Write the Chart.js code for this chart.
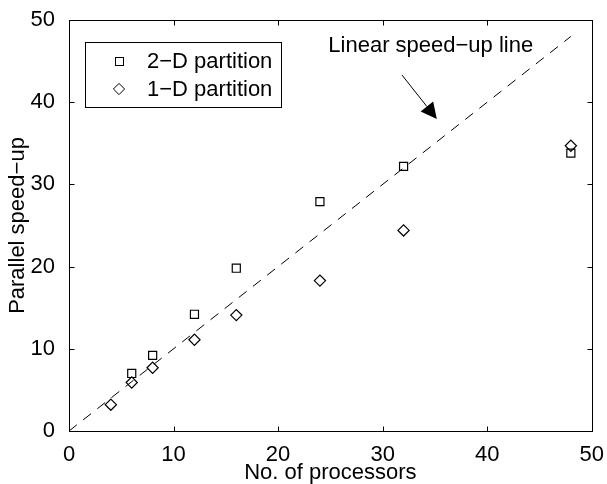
<!DOCTYPE html>
<html>
<head>
<meta charset="utf-8">
<script src="https://cdn.jsdelivr.net/npm/chart.js@4/dist/chart.umd.min.js"></script>
<style>
  html, body { margin: 0; padding: 0; background: #fff; }
  #wrap { width: 607px; height: 484px; }
</style>
</head>
<body>
<div id="wrap"><canvas id="c" width="607" height="484"></canvas></div>
<script>
// ---- Data ----
const processors2D = [6, 8, 12, 16, 24, 32, 48];
const speedup2D    = [7.0, 9.2, 14.2, 19.8, 27.9, 32.2, 33.8];
const processors1D = [4, 6, 8, 12, 16, 24, 32, 48];
const speedup1D    = [3.2, 5.9, 7.7, 11.1, 14.1, 18.3, 24.4, 34.7];
const linearX = [0, 48];
const linearY = [0, 48];
const xTickValues = [0, 10, 20, 30, 40, 50];
const yTickValues = [0, 10, 20, 30, 40, 50];
const seriesLabels = ['2\u2212D partition', '1\u2212D partition'];
const annotationText = 'Linear speed\u2212up line';
const xTitle = 'No. of processors';
const yTitle = 'Parallel speed\u2212up';

// annotation anchor points in data units
const annotationTextAt = [34.6, 46.9];
const arrowFrom = [31.85, 43.3];
const arrowTo   = [35.18, 37.95];

const FONT = "'Liberation Sans', Arial, Helvetica, sans-serif";
const FS = 22;

const toPts = (xs, ys) => xs.map((x, i) => ({ x: x, y: ys[i] }));

const framePlugin = {
  id: 'frame',
  afterDraw(chart) {
    const ctx = chart.ctx;
    const a = chart.chartArea;
    const xs = chart.scales.x, ys = chart.scales.y;
    ctx.save();
    ctx.strokeStyle = '#000';
    ctx.lineWidth = 1;
    const L = Math.round(a.left) + 0.5, R = Math.round(a.right) + 0.5;
    const T = Math.round(a.top) + 0.5, B = Math.round(a.bottom) + 0.5;
    ctx.strokeRect(L, T, R - L, B - T);
    const tl = 5;
    ctx.beginPath();
    xTickValues.forEach(v => {
      const px = Math.round(xs.getPixelForValue(v)) + 0.5;
      ctx.moveTo(px, B); ctx.lineTo(px, B - tl);
      ctx.moveTo(px, T); ctx.lineTo(px, T + tl);
    });
    yTickValues.forEach(v => {
      const py = Math.round(ys.getPixelForValue(v)) + 0.5;
      ctx.moveTo(L, py); ctx.lineTo(L + tl, py);
      ctx.moveTo(R, py); ctx.lineTo(R - tl, py);
    });
    ctx.stroke();

    // legend
    const lx = 85.5, ly = 42.5, lw = 196, lh = 65;
    ctx.fillStyle = '#fff';
    ctx.fillRect(lx, ly, lw, lh);
    ctx.strokeRect(lx, ly, lw, lh);
    const mx = 119, rows = [61, 89];
    const s = 4;
    ctx.strokeRect(mx - s + 0.5, rows[0] - s + 0.5, 2 * s, 2 * s);
    const d = 5.6;
    ctx.beginPath();
    ctx.moveTo(mx - d, rows[1]);
    ctx.lineTo(mx, rows[1] - d);
    ctx.lineTo(mx + d, rows[1]);
    ctx.lineTo(mx, rows[1] + d);
    ctx.closePath();
    ctx.stroke();
    ctx.fillStyle = '#000';
    ctx.font = FS + 'px ' + FONT;
    ctx.textAlign = 'left';
    ctx.textBaseline = 'middle';
    ctx.fillText(seriesLabels[0], 147, rows[0] + 1);
    ctx.fillText(seriesLabels[1], 147, rows[1] + 1);

    // annotation text
    ctx.textAlign = 'center';
    ctx.fillText(annotationText, xs.getPixelForValue(annotationTextAt[0]), ys.getPixelForValue(annotationTextAt[1]));

    // arrow
    const x0 = xs.getPixelForValue(arrowFrom[0]), y0 = ys.getPixelForValue(arrowFrom[1]);
    const x1 = xs.getPixelForValue(arrowTo[0]), y1 = ys.getPixelForValue(arrowTo[1]);
    const dx = x1 - x0, dy = y1 - y0, len = Math.hypot(dx, dy);
    const ux = dx / len, uy = dy / len;
    const hl = 16, hw = 8;
    const bx = x1 - ux * hl, by = y1 - uy * hl;
    ctx.beginPath();
    ctx.moveTo(x0, y0); ctx.lineTo(bx, by);
    ctx.stroke();
    ctx.beginPath();
    ctx.moveTo(x1, y1);
    ctx.lineTo(bx - uy * hw, by + ux * hw);
    ctx.lineTo(bx + uy * hw, by - ux * hw);
    ctx.closePath();
    ctx.fill();
    ctx.restore();
  }
};

new Chart(document.getElementById('c'), {
  type: 'scatter',
  data: {
    datasets: [
      {
        label: 'Linear speed-up',
        data: toPts(linearX, linearY),
        showLine: true,
        borderColor: '#000',
        borderWidth: 1,
        borderDash: [10, 8],
        pointRadius: 0,
        fill: false
      },
      {
        label: seriesLabels[0],
        data: toPts(processors2D, speedup2D),
        pointStyle: 'rect',
        pointRadius: 5.7,
        pointBorderWidth: 1.2,
        borderColor: '#000',
        backgroundColor: 'rgba(0,0,0,0)',
        pointBackgroundColor: 'rgba(0,0,0,0)'
      },
      {
        label: seriesLabels[1],
        data: toPts(processors1D, speedup1D),
        pointStyle: 'rectRot',
        pointRadius: 5.6,
        pointBorderWidth: 1.2,
        borderColor: '#000',
        backgroundColor: 'rgba(0,0,0,0)',
        pointBackgroundColor: 'rgba(0,0,0,0)'
      }
    ]
  },
  options: {
    responsive: false,
    animation: false,
    layout: { padding: { left: 0, right: 15, top: 20, bottom: 0 } },
    plugins: { legend: { display: false }, tooltip: { enabled: false } },
    scales: {
      x: {
        type: 'linear', min: 0, max: 50,
        afterBuildTicks: s => { s.ticks = xTickValues.map(v => ({ value: v })); },
        afterFit: s => { s.height = 53; },
        grid: { display: false },
        border: { display: false },
        ticks: { color: '#000', font: { family: FONT, size: FS }, padding: 3, maxRotation: 0 },
        title: { display: true, text: xTitle, color: '#000', font: { family: FONT, size: FS, lineHeight: 1.0 }, padding: { top: 0, bottom: 0 } }
      },
      y: {
        type: 'linear', min: 0, max: 50,
        afterBuildTicks: s => { s.ticks = yTickValues.map(v => ({ value: v })); },
        afterFit: s => { s.width = 69; },
        grid: { display: false },
        border: { display: false },
        ticks: { color: '#000', font: { family: FONT, size: FS }, padding: 6 },
        title: { display: true, text: yTitle, color: '#000', font: { family: FONT, size: FS, lineHeight: 1.0 }, padding: { top: 7, bottom: 0 } }
      }
    }
  },
  plugins: [framePlugin]
});
</script>
</body>
</html>
